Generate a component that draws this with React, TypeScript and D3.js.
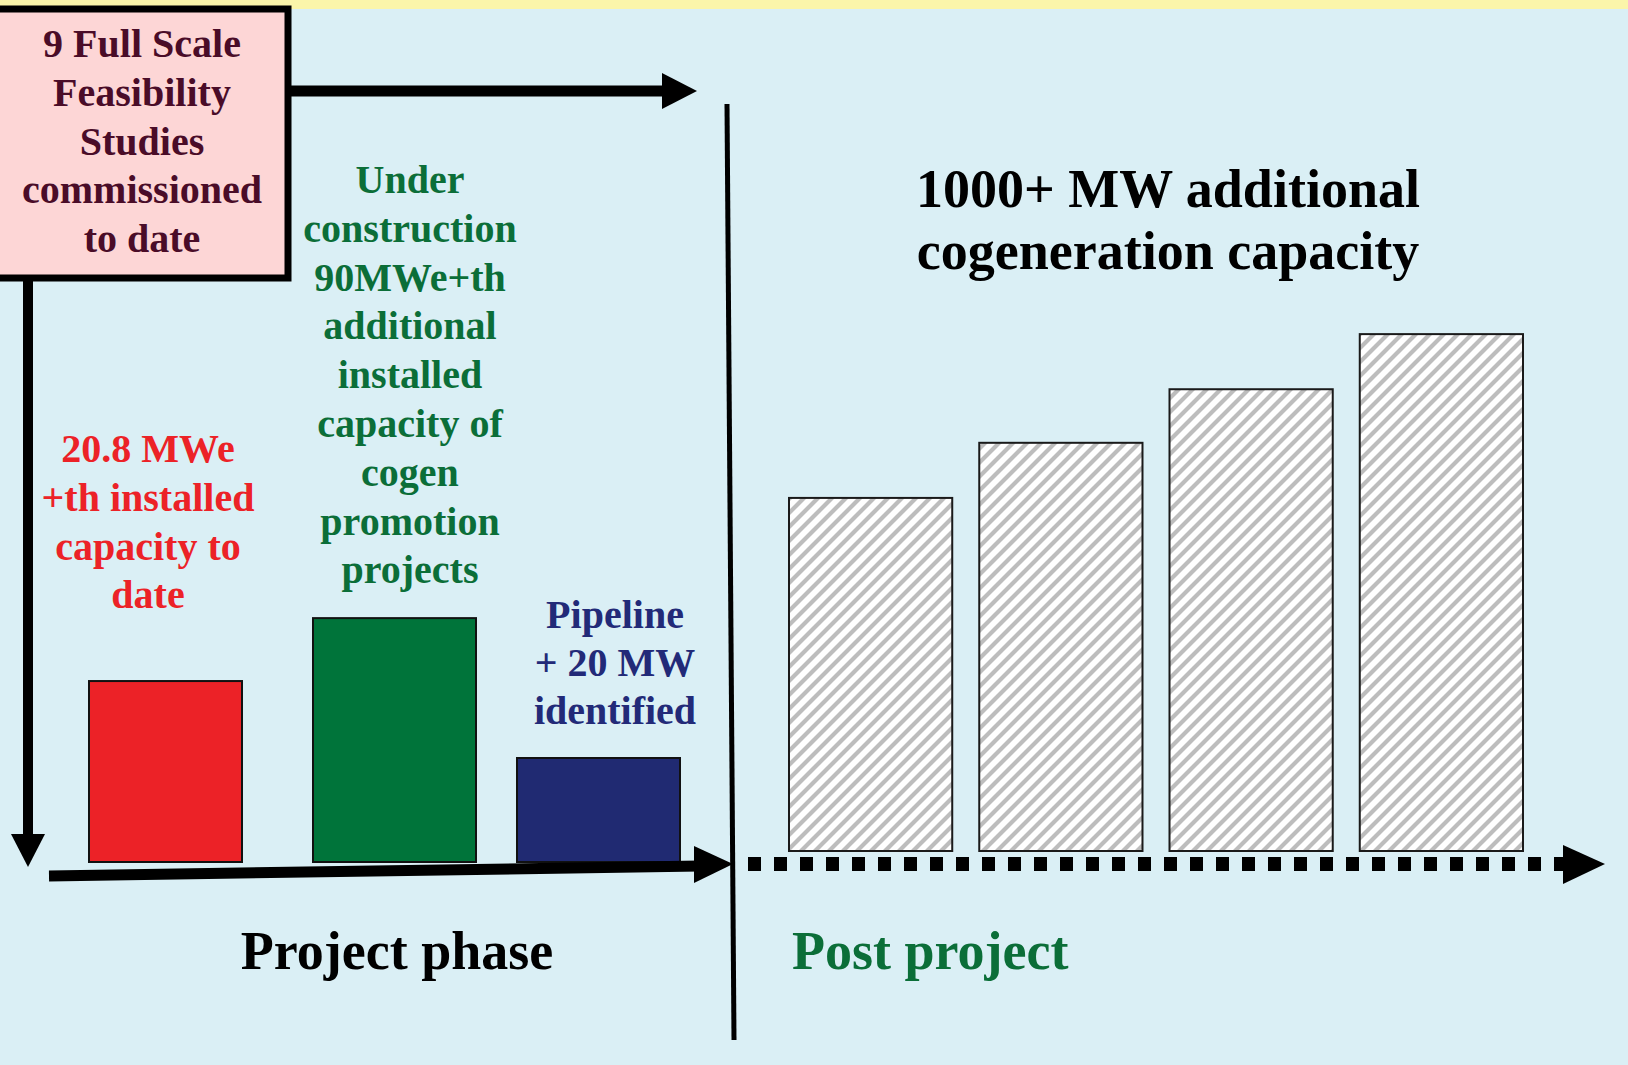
import * as d3 from "d3";

// bar heights are relative (the slide has no value axis)
const projectKeys = ["installed", "construction", "pipeline"];
const projectHeights = [3.48, 4.69, 2.0];
const projectColors = ["#ec2227", "#00743a", "#202a72"];

const postKeys = ["p1", "p2", "p3", "p4"];
const postHeights = [6.79, 7.85, 8.88, 9.94];

const boxLines = ["9 Full Scale", "Feasibility", "Studies", "commissioned", "to date"];
const redLines = ["20.8 MWe", "+th installed", "capacity to", "date"];
const greenLines = ["Under", "construction", "90MWe+th", "additional", "installed", "capacity of", "cogen", "promotion", "projects"];
const navyLines = ["Pipeline", "+ 20 MW", "identified"];
const titleLines = ["1000+ MW additional", "cogeneration capacity"];

const W = 1628;
const H = 1065;
const FONT = "'Liberation Serif', 'Times New Roman', serif";

function Lines({ lines, x, y, size, step, fill, anchor = "middle" }: any) {
  return (
    <text x={x} y={y} fontFamily={FONT} fontWeight="bold" fontSize={size} fill={fill} textAnchor={anchor}>
      {lines.map((l: string, i: number) => (
        <tspan key={i} x={x} y={y + i * step}>
          {l}
        </tspan>
      ))}
    </text>
  );
}

export default function App() {
  // slide spacing is not quite even, so an ordinal scale holds the bar centres
  const xProj = d3.scaleOrdinal<string, number>().domain(projectKeys).range([165.5, 394.5, 598.5]);
  const projW = [153, 163, 163];
  const yProj = d3.scaleLinear().domain([0, 10]).range([862, 342]);

  const xPost = d3.scaleBand<string>().domain(postKeys).range([789, 1523]).paddingInner(0.142).paddingOuter(0);
  const yPost = d3.scaleLinear().domain([0, 10]).range([851, 331]);

  const dots = d3.range(748, 1556, 26);

  return (
    <div style={{ position: "absolute", left: 0, top: 0 }}>
      <svg width={W} height={H} style={{ display: "block" }}>
        <defs>
          <pattern id="hatch" patternUnits="userSpaceOnUse" width={14} height={14}>
            <rect width={14} height={14} fill="#ffffff" />
            <path d="M0,14 L14,0 M-4,4 L4,-4 M10,18 L18,10" stroke="#bdbdbd" strokeWidth={4.2} />
          </pattern>
        </defs>
        <rect width={W} height={H} fill="#daeff5" />
        <rect width={W} height={9} fill="#fbf5aa" />

        {/* feasibility box */}
        <rect x={-4} y={9} width={292} height={269} fill="#fdd6d6" stroke="#000" strokeWidth={7} />
        <Lines lines={boxLines} x={142} y={57} size={40} step={48.8} fill="#4a0c28" />

        {/* top arrow */}
        <line x1={288} y1={91} x2={668} y2={91} stroke="#000" strokeWidth={11} />
        <polygon points="662,73 697,91 662,109" fill="#000" />

        {/* left down arrow */}
        <line x1={28} y1={278} x2={28} y2={840} stroke="#000" strokeWidth={10} />
        <polygon points="11,834 45,834 28,867" fill="#000" />

        {/* project bars */}
        {projectHeights.map((v, i) => {
          const k = projectKeys[i];
          const w = projW[i];
          return (
            <rect key={k} x={xProj(k) - w / 2} y={yProj(v)} width={w} height={yProj(0) - yProj(v)} fill={projectColors[i]} stroke="#111" strokeWidth={2} />
          );
        })}

        {/* project axis arrow */}
        <line x1={49} y1={876} x2={700} y2={866} stroke="#000" strokeWidth={11} />
        <polygon points="694,846 733,864 694,883" fill="#000" />

        {/* separator */}
        <line x1={727} y1={104} x2={734} y2={1040} stroke="#000" strokeWidth={5} />

        {/* post project bars */}
        {postHeights.map((v, i) => (
          <rect
            key={postKeys[i]}
            x={xPost(postKeys[i])}
            y={yPost(v)}
            width={xPost.bandwidth()}
            height={yPost(0) - yPost(v)}
            fill="url(#hatch)"
            stroke="#1a1a1a"
            strokeWidth={2}
          />
        ))}

        {/* dotted arrow */}
        {dots.map((x) => (
          <rect key={x} x={x} y={857} width={13} height={14} fill="#000" />
        ))}
        <polygon points="1563,845 1605,864 1563,884" fill="#000" />

        <Lines lines={redLines} x={148} y={462} size={40} step={48.8} fill="#ec2227" />
        <Lines lines={greenLines} x={410} y={193} size={40} step={48.8} fill="#0b6e38" />
        <Lines lines={navyLines} x={615} y={628} size={40} step={48} fill="#222a78" />
        <Lines lines={titleLines} x={1168} y={207} size={54} step={62} fill="#000" />

        <text x={397} y={969} fontFamily={FONT} fontWeight="bold" fontSize={54} fill="#000" textAnchor="middle">
          Project phase
        </text>
        <text x={792} y={969} fontFamily={FONT} fontWeight="bold" fontSize={54} fill="#0b6e38">
          Post project
        </text>
      </svg>
    </div>
  );
}
